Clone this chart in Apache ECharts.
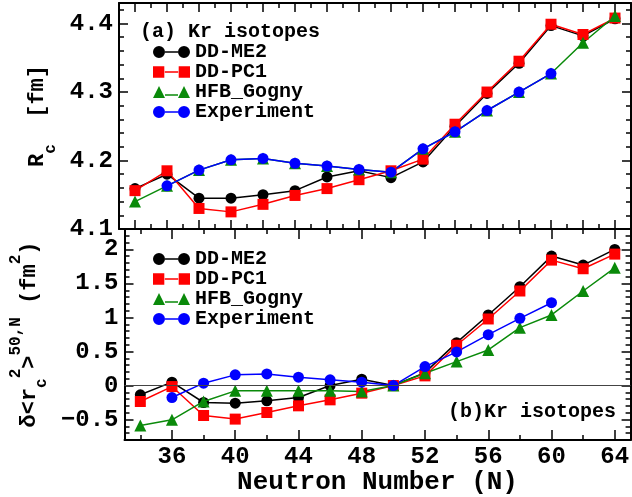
<!DOCTYPE html>
<html>
<head>
<meta charset="utf-8">
<script src="https://cdn.jsdelivr.net/npm/echarts@6/dist/echarts.min.js"></script>
<style>
html,body{margin:0;padding:0;background:#fff;}
#chart{width:632px;height:497px;}
</style>
</head>
<body>
<div id="chart"></div>
<script>
// ---------------- data ----------------
var neutrons = [34, 36, 38, 40, 42, 44, 46, 48, 50, 52, 54, 56, 58, 60, 62, 64];

// (a) charge radius Rc [fm]
var rcDDME2 = [4.159, 4.180, 4.145, 4.145, 4.150, 4.156, 4.176, 4.185, 4.175, 4.198, 4.250, 4.298, 4.342, 4.397, 4.382, 4.407];
var rcDDPC1 = [4.156, 4.185, 4.130, 4.125, 4.136, 4.149, 4.159, 4.172, 4.185, 4.202, 4.253, 4.300, 4.345, 4.399, 4.384, 4.408];
var rcGogny = [4.140, 4.163, 4.186, 4.201, 4.203, 4.196, 4.192, 4.187, 4.183, 4.217, 4.242, 4.273, 4.300, 4.327, 4.372, 4.411];
var rcExp   = [null, 4.163, 4.186, 4.201, 4.203, 4.196, 4.192, 4.187, 4.183, 4.217, 4.242, 4.273, 4.300, 4.327, null, null];

// (b) isotope shift delta<rc^2> (fm^2)
var drDDME2 = [-0.136, 0.050, -0.249, -0.259, -0.224, -0.176, 0.000, 0.093, 0, 0.190, 0.630, 1.037, 1.452, 1.902, 1.770, 2.000];
var drDDPC1 = [-0.234, -0.015, -0.440, -0.493, -0.396, -0.298, -0.210, -0.112, 0, 0.142, 0.592, 0.978, 1.389, 1.843, 1.716, 1.931];
var drGogny = [-0.586, -0.503, -0.234, -0.078, -0.078, -0.078, -0.078, -0.088, 0, 0.181, 0.352, 0.523, 0.851, 1.037, 1.389, 1.730];
var drExp   = [null, -0.176, 0.035, 0.157, 0.171, 0.123, 0.084, 0.049, 0, 0.279, 0.494, 0.748, 0.988, 1.217, null, null];

// tick labels
var nTickLabels  = [36, 40, 44, 48, 52, 56, 60, 64];
var rcTickLabels = [4.1, 4.2, 4.3, 4.4];
var drTickLabels = [-0.5, 0, 0.5, 1, 1.5, 2];

var seriesNames = ['DD-ME2', 'DD-PC1', 'HFB_Gogny', 'Experiment'];

// ---------------- helpers ----------------
var FONT = '"Liberation Mono", "DejaVu Sans Mono", monospace';
function range(a, b, step) { var r = []; for (var v = a; v <= b + 1e-9; v += step) r.push(Math.round(v * 1000) / 1000); return r; }
function pairs(ys) { return neutrons.map(function (n, i) { return [n, ys[i]]; }); }

var xMin = 33, xMax = 65;
var topXMajor = range(34, 64, 2), topXMinor = range(35, 63, 2);
var botXMajor = range(36, 64, 4), botXMinor = range(34, 62, 4);
var rcMinor = range(4.12, 4.42, 0.02).filter(function (v) { return Math.abs(v * 10 - Math.round(v * 10)) > 1e-6; });
var drMinor = range(-0.7, 2.2, 0.1).filter(function (v) { return Math.abs(v * 2 - Math.round(v * 2)) > 1e-6; });

var lineAxis = { show: true, onZero: false, lineStyle: { color: '#000', width: 2 } };
var noLine = { show: false, onZero: false };

function xAx(grid, pos, ticks, len, showLine, labels, extra) {
  var a = {
    type: 'value', gridIndex: grid, position: pos, min: xMin, max: xMax,
    axisLine: showLine ? lineAxis : noLine,
    axisTick: { show: true, inside: true, length: len, customValues: ticks, lineStyle: { color: '#000', width: 1.5 } },
    axisLabel: labels ? { show: true, customValues: labels, fontSize: 24, fontWeight: 'bold', fontFamily: FONT, color: '#000', margin: 5 } : { show: false },
    splitLine: { show: false }
  };
  if (extra) for (var k in extra) a[k] = extra[k];
  return a;
}
function yAx(grid, pos, min, max, ticks, len, showLine, labels, fmt, extra) {
  var a = {
    type: 'value', gridIndex: grid, position: pos, min: min, max: max,
    axisLine: showLine ? lineAxis : noLine,
    axisTick: { show: true, inside: true, length: len, customValues: ticks, lineStyle: { color: '#000', width: 1.5 } },
    axisLabel: labels ? { show: true, customValues: labels, formatter: fmt, fontSize: 24, fontWeight: 'bold', fontFamily: FONT, color: '#000', margin: 6 } : { show: false },
    splitLine: { show: false }
  };
  if (extra) for (var k in extra) a[k] = extra[k];
  return a;
}

var richName = {
  m:   { fontSize: 22, lineHeight: 42, fontFamily: FONT, fontWeight: 'bold', color: '#000', verticalAlign: 'middle' },
  sub: { fontSize: 16, lineHeight: 32, fontFamily: FONT, fontWeight: 'bold', color: '#000', verticalAlign: 'bottom' },
  sup: { fontSize: 16, lineHeight: 16, fontFamily: FONT, fontWeight: 'bold', color: '#000', verticalAlign: 'top' }
};

var xAxes = [
  xAx(0, 'bottom', topXMajor, 9, true, null),
  xAx(0, 'bottom', topXMinor, 5, false, null),
  xAx(0, 'top', topXMajor, 9, true, null),
  xAx(0, 'top', topXMinor, 5, false, null),
  xAx(1, 'bottom', botXMajor, 10, true, nTickLabels, {
    name: 'Neutron Number (N)', nameLocation: 'middle', nameGap: 25,
    nameTextStyle: { fontSize: 26, fontWeight: 'bold', fontFamily: FONT, color: '#000' }
  }),
  xAx(1, 'bottom', botXMinor, 5, false, null),
  xAx(1, 'top', botXMajor, 10, true, null),
  xAx(1, 'top', botXMinor, 5, false, null)
];

var rcFmt = function (v) { return v.toFixed(1); };
var drFmt = function (v) { return String(v).replace('-', '\u2212'); };

var yAxes = [
  yAx(0, 'left', 4.1, 4.43, rcTickLabels, 9, true, rcTickLabels, rcFmt, {
    name: '{m|R}{sub|c}{m|  [fm]}', nameLocation: 'middle', nameRotate: 90, nameGap: 55,
    nameTextStyle: { rich: richName }
  }),
  yAx(0, 'left', 4.1, 4.43, rcMinor, 5, false, null),
  yAx(0, 'right', 4.1, 4.43, rcTickLabels, 9, true, null),
  yAx(0, 'right', 4.1, 4.43, rcMinor, 5, false, null),
  yAx(1, 'left', -0.8, 2.3, drTickLabels, 9, true, drTickLabels, drFmt, {
    name: '{m|\u03b4<r}{sub|c}{sup|2}{m|>}{sup|50,N}{m| (fm}{sup|2}{m|)}', nameLocation: 'middle', nameRotate: 90, nameGap: 55,
    nameTextStyle: { rich: richName }
  }),
  yAx(1, 'left', -0.8, 2.3, drMinor, 5, false, null),
  yAx(1, 'right', -0.8, 2.3, drTickLabels, 9, true, null),
  yAx(1, 'right', -0.8, 2.3, drMinor, 5, false, null)
];

var styles = [
  { color: '#000000', symbol: 'circle', size: 11 },
  { color: '#ff0000', symbol: 'rect', size: 11 },
  { color: '#0a8a0a', symbol: 'triangle', size: 12 },
  { color: '#0000ff', symbol: 'circle', size: 11 }
];
var topData = [rcDDME2, rcDDPC1, rcGogny, rcExp];
var botData = [drDDME2, drDDPC1, drGogny, drExp];

var series = [];
function mk(name, st, data, xi, yi) {
  return {
    name: name, type: 'line', xAxisIndex: xi, yAxisIndex: yi, data: pairs(data),
    symbol: st.symbol, symbolSize: st.size, showSymbol: true, connectNulls: false,
    lineStyle: { color: st.color, width: 1.5 }, itemStyle: { color: st.color },
    animation: false, silent: true
  };
}
for (var i = 0; i < 4; i++) series.push(mk(seriesNames[i], styles[i], topData[i], 0, 0));
for (var j = 0; j < 4; j++) {
  var s = mk(seriesNames[j], styles[j], botData[j], 4, 4);
  if (j === 0) {
    s.markLine = { silent: true, symbol: ['none', 'none'], label: { show: false },
      lineStyle: { color: '#444', width: 1, type: 'solid' }, data: [{ yAxis: 0 }] };
  }
  series.push(s);
}
// make sure zero line drawn under the markers
series[4].z = 1;

var LINE = 'M12,5.3 L25,5.3 L25,6.7 L12,6.7 Z';
var TRI_LINE = 'M12,8.3 L25,8.3 L25,9.7 L12,9.7 Z';
var icons = [
  'path://M0,6 A6,6 0 1,1 12,6 A6,6 0 1,1 0,6 Z M25,6 A6,6 0 1,1 37,6 A6,6 0 1,1 25,6 Z ' + LINE,
  'path://M0.5,0.5 L11.5,0.5 L11.5,11.5 L0.5,11.5 Z M25.5,0.5 L36.5,0.5 L36.5,11.5 L25.5,11.5 Z ' + LINE,
  'path://M6,0 L12,12 L0,12 Z M31,0 L37,12 L25,12 Z ' + TRI_LINE,
  'path://M0,6 A6,6 0 1,1 12,6 A6,6 0 1,1 0,6 Z M25,6 A6,6 0 1,1 37,6 A6,6 0 1,1 25,6 Z ' + LINE
];
function legend(top) {
  return {
    orient: 'vertical', left: 153, top: top, padding: 0, itemGap: 0,
    itemWidth: 37, itemHeight: 12, selectedMode: false,
    textStyle: { fontSize: 20, fontWeight: 'bold', fontFamily: FONT, color: '#000', lineHeight: 20 },
    data: seriesNames.map(function (n, k) { return { name: n, icon: icons[k] }; })
  };
}

var option = {
  backgroundColor: '#fff',
  animation: false,
  grid: [
    { left: 119, right: 1, top: 3, height: 226 },
    { left: 119, right: 1, top: 229, height: 211 }
  ],
  xAxis: xAxes,
  yAxis: yAxes,
  legend: [legend(42), legend(249)],
  graphic: [
    { type: 'text', left: 140, top: 22, style: { text: '(a) Kr isotopes', fontSize: 20, fontWeight: 'bold', fontFamily: FONT, fill: '#000' } },
    { type: 'text', left: 448, top: 402, style: { text: '(b)Kr isotopes', fontSize: 20, fontWeight: 'bold', fontFamily: FONT, fill: '#000' } }
  ],
  series: series
};

var chart = echarts.init(document.getElementById('chart'), null, { renderer: 'canvas' });
chart.setOption(option);
</script>
</body>
</html>
